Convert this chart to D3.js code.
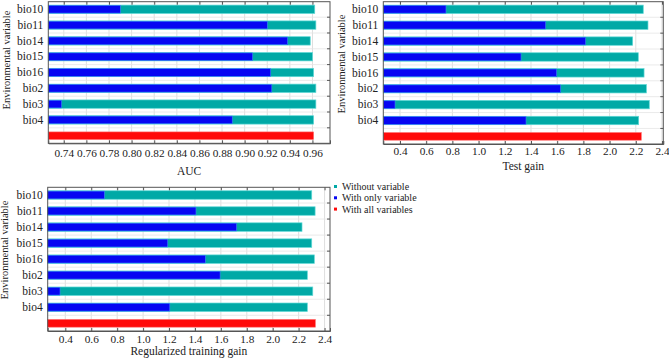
<!DOCTYPE html>
<html>
<head>
<meta charset="utf-8">
<script src="https://cdn.jsdelivr.net/npm/d3@7"></script>
<style>
  body { margin: 0; background: #fff; }
</style>
</head>
<body>
<div id="chart"></div>
<script>
// Jackknife of variable importance: three panels
const variables = ['bio10', 'bio11', 'bio14', 'bio15', 'bio16', 'bio2', 'bio3', 'bio4'];
const allKey = 'all';

const aucWithout = [0.962, 0.963, 0.958, 0.960, 0.961, 0.963, 0.963, 0.961];
const aucOnly    = [0.790, 0.920, 0.938, 0.907, 0.923, 0.924, 0.738, 0.889];
const aucAll     = 0.961;
const aucTicks   = [0.74, 0.76, 0.78, 0.80, 0.82, 0.84, 0.86, 0.88, 0.90, 0.92, 0.94, 0.96];

const testWithout = [2.257, 2.293, 2.176, 2.219, 2.263, 2.281, 2.303, 2.222];
const testOnly    = [0.751, 1.512, 1.817, 1.324, 1.596, 1.626, 0.362, 1.362];
const testAll     = 2.242;
const gainTicks   = [0.4, 0.6, 0.8, 1.0, 1.2, 1.4, 1.6, 1.8, 2.0, 2.2, 2.4];

const trainWithout = [2.301, 2.327, 2.226, 2.301, 2.321, 2.267, 2.309, 2.267];
const trainOnly    = [0.701, 1.408, 1.722, 1.190, 1.480, 1.594, 0.359, 1.206];
const trainAll     = 2.329;

const legendLabels = ['Without variable', 'With only variable', 'With all variables'];

const colors = { without: '#00a9a6', only: '#0606f2', all: '#ff0a0a' };
const strokes = { without: '#5fd9d6', only: '#3f7cff', all: '#ff6a6a' };
const serif = '"Liberation Serif", serif';

const svg = d3.select('#chart').append('svg')
    .attr('width', 669)
    .attr('height', 360);

function panel(cfg) {
    const g = svg.append('g');

    const x = d3.scaleLinear().domain(cfg.domain).range([cfg.left, cfg.right]);
    const y = d3.scaleBand()
        .domain(variables.concat([allKey]))
        .range([cfg.top, cfg.bottom])
        .paddingInner(0.52)
        .paddingOuter(0.24);

    // grid
    g.append('g').selectAll('line.vg')
        .data(cfg.ticks).enter().append('line')
        .attr('x1', d => x(d)).attr('x2', d => x(d))
        .attr('y1', cfg.top).attr('y2', cfg.bottom)
        .attr('stroke', '#d6d6d6').attr('stroke-width', 0.8);

    const bounds = y.domain().slice(1).map(d => y(d) - y.step() * y.paddingInner() / 2);
    g.append('g').selectAll('line.hg')
        .data(bounds).enter().append('line')
        .attr('x1', cfg.left).attr('x2', cfg.right)
        .attr('y1', d => d).attr('y2', d => d)
        .attr('stroke', '#e4e4e4').attr('stroke-width', 0.8);

    // bars: without variable (teal), with only (blue), with all (red)
    const rows = variables.map((v, i) => ({ v, without: cfg.without[i], only: cfg.only[i] }));
    const x0 = cfg.domain[0];

    g.selectAll('.bw').data(rows).enter().append('rect')
        .attr('x', x(x0)).attr('y', d => y(d.v) - 0.4)
        .attr('width', d => x(d.without) - x(x0))
        .attr('height', y.bandwidth() + 0.8)
        .attr('fill', colors.without)
        .attr('stroke', strokes.without).attr('stroke-width', 0.7);

    g.selectAll('.bo').data(rows).enter().append('rect')
        .attr('x', x(x0)).attr('y', d => y(d.v))
        .attr('width', d => x(d.only) - x(x0))
        .attr('height', y.bandwidth())
        .attr('fill', colors.only)
        .attr('stroke', strokes.only).attr('stroke-width', 0.6);

    g.append('rect')
        .attr('x', x(x0)).attr('y', y(allKey))
        .attr('width', x(cfg.all) - x(x0))
        .attr('height', y.bandwidth())
        .attr('fill', colors.all)
        .attr('stroke', strokes.all).attr('stroke-width', 0.6);

    // frame
    g.append('rect')
        .attr('x', cfg.left).attr('y', cfg.top)
        .attr('width', cfg.right - cfg.left).attr('height', cfg.bottom - cfg.top)
        .attr('fill', 'none').attr('stroke', '#555').attr('stroke-width', 1);

    // bottom axis with inward ticks
    const xa = g.append('g')
        .attr('transform', `translate(0,${cfg.bottom})`)
        .call(d3.axisBottom(x).tickValues(cfg.ticks).tickFormat(d3.format(cfg.fmt))
            .tickSize(-3).tickPadding(cfg.tickPad));
    xa.attr('font-family', serif).attr('font-size', 11.3);
    xa.select('.domain').attr('stroke', '#555');
    xa.selectAll('.tick line').attr('stroke', '#555');
    xa.selectAll('text').attr('fill', '#222');

    // top inward ticks
    const xt = g.append('g')
        .attr('transform', `translate(0,${cfg.top})`)
        .call(d3.axisTop(x).tickValues(cfg.ticks).tickFormat('').tickSize(-3));
    xt.select('.domain').remove();
    xt.selectAll('.tick line').attr('stroke', '#555');

    // left axis labels
    const ya = g.append('g')
        .attr('transform', `translate(${cfg.left},0)`)
        .call(d3.axisLeft(y).tickSize(0).tickPadding(5)
            .tickFormat(d => d === allKey ? '' : d));
    ya.attr('font-family', serif).attr('font-size', 11.5);
    ya.select('.domain').remove();
    ya.selectAll('text').attr('fill', '#222');

    // right inward ticks at row boundaries
    g.append('g').selectAll('line.rt')
        .data(bounds).enter().append('line')
        .attr('x1', cfg.right - 3).attr('x2', cfg.right)
        .attr('y1', d => d).attr('y2', d => d)
        .attr('stroke', '#555');

    // axis titles
    g.append('text')
        .attr('x', (cfg.left + cfg.right) / 2)
        .attr('y', cfg.titleY)
        .attr('text-anchor', 'middle')
        .attr('font-family', serif).attr('font-size', 11.5).attr('fill', '#222')
        .text(cfg.title);

    g.append('text')
        .attr('transform', `translate(${cfg.ylabX},${cfg.ylabY}) rotate(-90)`)
        .attr('text-anchor', 'middle')
        .attr('font-family', serif).attr('font-size', 10.5).attr('fill', '#222')
        .text('Environmental variable');
}

panel({
    left: 48.3, right: 330, top: 1.7, bottom: 143.3,
    domain: [0.7263, 0.9755], ticks: aucTicks, fmt: '.2f', tickPad: 6,
    without: aucWithout, only: aucOnly, all: aucAll,
    title: 'AUC', titleY: 174.5, ylabX: 9.5, ylabY: 60
});

panel({
    left: 383.3, right: 663.3, top: 1.7, bottom: 144,
    domain: [0.2725, 2.41], ticks: gainTicks, fmt: '.1f', tickPad: 3,
    without: testWithout, only: testOnly, all: testAll,
    title: 'Test gain', titleY: 169.5, ylabX: 345, ylabY: 64
});

panel({
    left: 47.7, right: 330, top: 187.3, bottom: 331,
    domain: [0.264, 2.442], ticks: gainTicks, fmt: '.1f', tickPad: 4,
    without: trainWithout, only: trainOnly, all: trainAll,
    title: 'Regularized training gain', titleY: 355, ylabX: 8, ylabY: 250
});

// legend
const legendColors = [colors.without, colors.only, colors.all];
const legend = svg.append('g').attr('transform', 'translate(334,185)');
const li = legend.selectAll('g').data(legendLabels).enter().append('g')
    .attr('transform', (d, i) => `translate(0,${i * 11.3})`);
li.append('rect')
    .attr('x', 0).attr('y', 0).attr('width', 3).attr('height', 3)
    .attr('fill', (d, i) => legendColors[i]);
li.append('text')
    .attr('x', 8).attr('y', 5)
    .attr('font-family', serif).attr('font-size', 10).attr('fill', '#222')
    .text(d => d);
</script>
</body>
</html>
